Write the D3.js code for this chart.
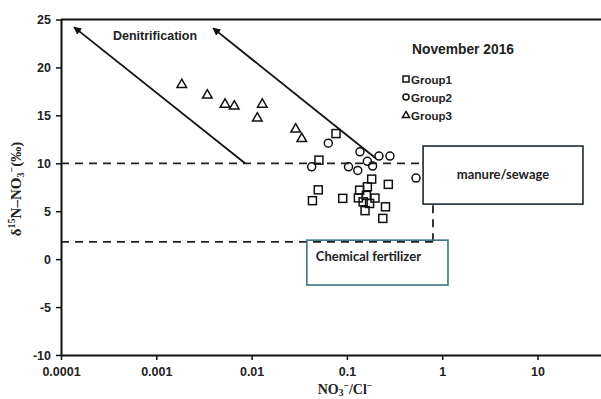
<!DOCTYPE html>
<html><head><meta charset="utf-8">
<script src="https://cdn.jsdelivr.net/npm/d3@7/dist/d3.min.js"></script>
<style>
html,body{margin:0;padding:0;background:#fff;}
svg{display:block;}
</style></head>
<body>
<svg id="c" width="601" height="399"></svg>
<script>
// ---- data ----
const xTicks = [0.0001, 0.001, 0.01, 0.1, 1, 10];
const xTickLabels = ["0.0001", "0.001", "0.01", "0.1", "1", "10"];
const yTicks = [-10, -5, 0, 5, 10, 15, 20, 25];

const group1X = [0.0769, 0.0509, 0.182, 0.272, 0.0501, 0.0435, 0.0904, 0.136, 0.164, 0.132, 0.160, 0.197, 0.148, 0.173, 0.155, 0.254, 0.238];
const group1Y = [13.1, 10.33, 8.35, 7.8, 7.23, 6.1, 6.34, 7.2, 7.55, 6.39, 6.65, 6.37, 5.98, 5.81, 5.06, 5.46, 4.25];

const group2X = [0.0638, 0.137, 0.0427, 0.104, 0.130, 0.164, 0.186, 0.217, 0.283, 0.531];
const group2Y = [12.1, 11.2, 9.63, 9.63, 9.26, 10.2, 9.71, 10.75, 10.75, 8.46];

const group3X = [0.00185, 0.00343, 0.00526, 0.00658, 0.01295, 0.01148, 0.0290, 0.0336];
const group3Y = [18.3, 17.2, 16.25, 16.05, 16.25, 14.8, 13.65, 12.66];

// annotation geometry in data units
const arrowFromX = [0.00853, 0.202];
const arrowFromY = [10, 10.5];
const arrowToX = [0.000137, 0.00394];
const arrowToY = [24.2, 24.1];
const dashedLevels = [10, 1.8];
const dashedXEnd = 0.8;
const manureBox = [0.63, 30, 11.8, 5.74];
const fertBox = [0.038, 1.15, 1.98, -2.7];

// ---- chart ----
const svg = d3.select("#c");
const L = 61, R = 601, T = 19.5, B = 355;
const x = d3.scaleLog().domain([1e-4, Math.pow(10, (R - L) / 95.3 - 4)]).range([L, R]);
const y = d3.scaleLinear().domain([-10, 25]).range([B, T]);

const tickFont = "Liberation Sans, Arial, sans-serif";

// frame top line
svg.append("line").attr("x1", L).attr("x2", R).attr("y1", y(25)).attr("y2", y(25))
  .attr("stroke", "#111").attr("stroke-width", 2);

// dashed lines
dashedLevels.forEach(v => {
  svg.append("line").attr("x1", L).attr("x2", x(dashedXEnd)).attr("y1", y(v)).attr("y2", y(v))
    .attr("stroke", "#222").attr("stroke-width", 1.8).attr("stroke-dasharray", "8,6");
});
svg.append("line").attr("x1", x(dashedXEnd)).attr("x2", x(dashedXEnd))
  .attr("y1", y(dashedLevels[0])).attr("y2", y(dashedLevels[1]))
  .attr("stroke", "#222").attr("stroke-width", 1.8).attr("stroke-dasharray", "8,6");

// boxes
svg.append("rect").attr("x", x(manureBox[0])).attr("y", y(manureBox[2]))
  .attr("width", x(manureBox[1]) - x(manureBox[0])).attr("height", y(manureBox[3]) - y(manureBox[2]))
  .attr("fill", "#fff").attr("stroke", "#1e2b30").attr("stroke-width", 1.6);
svg.append("text").attr("x", (x(manureBox[0]) + x(manureBox[1])) / 2).attr("y", (y(manureBox[2]) + y(manureBox[3])) / 2 + 4)
  .attr("text-anchor", "middle").attr("font-family", "Lato, sans-serif").attr("font-weight", "bold")
  .attr("font-size", 13).attr("fill", "#222").text("manure/sewage");

svg.append("rect").attr("x", x(fertBox[0])).attr("y", y(fertBox[2]))
  .attr("width", x(fertBox[1]) - x(fertBox[0])).attr("height", y(fertBox[3]) - y(fertBox[2]))
  .attr("fill", "none").attr("stroke", "#3b7585").attr("stroke-width", 1.6);
svg.append("text").attr("x", x(fertBox[0]) + 9).attr("y", y(fertBox[2]) + 21)
  .attr("font-family", "Lato, sans-serif").attr("font-weight", "bold")
  .attr("font-size", 13).attr("fill", "#222").text("Chemical fertilizer");

// arrows
const defs = svg.append("defs");
defs.append("marker").attr("id", "ah").attr("viewBox", "0 0 10 10").attr("refX", 9).attr("refY", 5)
  .attr("markerWidth", 8).attr("markerHeight", 8).attr("markerUnits", "userSpaceOnUse").attr("orient", "auto")
  .append("path").attr("d", "M0,0 L10,5 L0,10 Z").attr("fill", "#111");
arrowFromX.forEach((fx, i) => {
  svg.append("line").attr("x1", x(fx)).attr("y1", y(arrowFromY[i]))
    .attr("x2", x(arrowToX[i])).attr("y2", y(arrowToY[i]))
    .attr("stroke", "#111").attr("stroke-width", 1.8).attr("marker-end", "url(#ah)");
});
svg.append("text").attr("x", 113).attr("y", 40).attr("font-family", tickFont).attr("font-weight", "bold")
  .attr("font-size", 12.5).attr("fill", "#222").text("Denitrification");

// axes
const xAxis = d3.axisBottom(x).tickValues(xTicks).tickFormat((d, i) => xTickLabels[i]).tickSize(5).tickSizeOuter(0);
const gx = svg.append("g").attr("transform", `translate(0,${B})`).call(xAxis);
gx.select(".domain").attr("stroke", "#111").attr("stroke-width", 2);
gx.selectAll(".tick line").attr("stroke", "#111").attr("stroke-width", 1.5);
gx.selectAll("text").attr("font-family", tickFont).attr("font-weight", "bold").attr("font-size", 12.5)
  .attr("fill", "#222").attr("dy", "1.0em");

const yAxis = d3.axisLeft(y).tickValues(yTicks).tickFormat(d => String(d)).tickSize(5).tickSizeOuter(0);
const gy = svg.append("g").attr("transform", `translate(${L},0)`).call(yAxis);
gy.select(".domain").attr("stroke", "#111").attr("stroke-width", 2);
gy.selectAll(".tick line").attr("stroke", "#111").attr("stroke-width", 1.5);
gy.selectAll("text").attr("font-family", tickFont).attr("font-weight", "bold").attr("font-size", 12.5)
  .attr("fill", "#222").attr("x", -10);

// axis titles
const xt = svg.append("text").attr("x", 345).attr("y", 394).attr("text-anchor", "middle")
  .attr("font-family", "Liberation Serif, Times New Roman, serif").attr("font-weight", "bold")
  .attr("font-size", 14).attr("fill", "#222");
xt.append("tspan").text("NO");
xt.append("tspan").attr("font-size", 9.5).attr("dy", 2).text("3");
xt.append("tspan").attr("font-size", 9.5).attr("dy", -7).text("−");
xt.append("tspan").attr("dy", 5).text("/Cl");
xt.append("tspan").attr("font-size", 9.5).attr("dy", -5).text("−");

const yt = svg.append("text").attr("transform", "translate(21,189) rotate(-90)").attr("text-anchor", "middle")
  .attr("font-family", "Liberation Serif, Times New Roman, serif").attr("font-weight", "bold")
  .attr("font-size", 15).attr("fill", "#222");
yt.append("tspan").text("δ");
yt.append("tspan").attr("font-size", 10).attr("dy", -6).text("15");
yt.append("tspan").attr("dy", 6).text("N–NO");
yt.append("tspan").attr("font-size", 10).attr("dy", 3).text("3");
yt.append("tspan").attr("font-size", 10).attr("dy", -9).text("−");
yt.append("tspan").attr("dy", 6).text("(‰)");

// markers
const mk = {stroke: "#111", sw: 1.5};
function square(g, cx, cy, s) {
  g.append("rect").attr("x", cx - s / 2).attr("y", cy - s / 2).attr("width", s).attr("height", s)
    .attr("fill", "none").attr("stroke", mk.stroke).attr("stroke-width", mk.sw);
}
function circle(g, cx, cy, r) {
  g.append("circle").attr("cx", cx).attr("cy", cy).attr("r", r)
    .attr("fill", "none").attr("stroke", mk.stroke).attr("stroke-width", mk.sw);
}
const triSym = d3.symbol().type(d3.symbolTriangle);
function tri(g, cx, cy, size) {
  g.append("path").attr("d", triSym.size(size)()).attr("transform", `translate(${cx},${cy + 1})`)
    .attr("fill", "none").attr("stroke", mk.stroke).attr("stroke-width", mk.sw).attr("stroke-linejoin", "miter");
}
const gp = svg.append("g");
group3X.forEach((v, i) => tri(gp, x(v), y(group3Y[i]), 40));
group2X.forEach((v, i) => circle(gp, x(v), y(group2Y[i]), 4));
group1X.forEach((v, i) => square(gp, x(v), y(group1Y[i]), 8));

// title & legend
svg.append("text").attr("x", 412).attr("y", 54).attr("font-family", tickFont).attr("font-weight", "bold")
  .attr("font-size", 13.8).attr("fill", "#222").text("November 2016");
const legNames = ["Group1", "Group2", "Group3"];
const legY = [79, 97, 115];
const lg = svg.append("g");
square(lg, 406, legY[0], 6);
circle(lg, 406, legY[1], 3);
tri(lg, 406, legY[2] - 0.5, 22);
legNames.forEach((n, i) => {
  lg.append("text").attr("x", 411).attr("y", legY[i] + 4.5).attr("font-family", tickFont).attr("font-weight", "bold")
    .attr("font-size", 11.5).attr("fill", "#222").text(n);
});
</script>
</body></html>
